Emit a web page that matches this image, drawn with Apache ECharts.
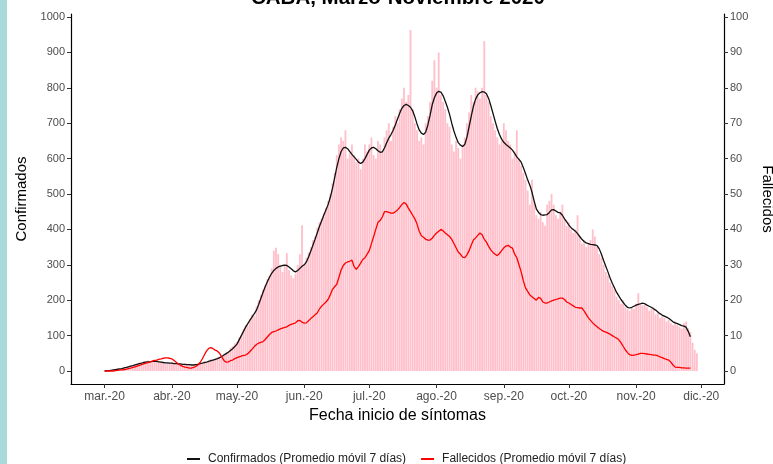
<!DOCTYPE html>
<html><head><meta charset="utf-8">
<script src="https://cdn.jsdelivr.net/npm/echarts@6/dist/echarts.min.js"></script>
<style>html,body{margin:0;padding:0;background:#fff}#c{width:773px;height:464px}</style>
</head><body><div id="c"></div>
<script>
// ---- tick labels ----
const monthStarts = ['2020-03-01','2020-04-01','2020-05-01','2020-06-01','2020-07-01','2020-08-01','2020-09-01','2020-10-01','2020-11-01','2020-12-01'];
const monthLabels = ['mar.-20','abr.-20','may.-20','jun.-20','jul.-20','ago.-20','sep.-20','oct.-20','nov.-20','dic.-20'];
const leftTicks = [0,100,200,300,400,500,600,700,800,900,1000];
const rightTicks = [0,10,20,30,40,50,60,70,80,90,100];

// ---- daily confirmed cases (bars), from 2020-03-01 ----
const confMar = [0,1,2,1,3,4,5,7,6,10,11,13,16,14,18,21,24,20,27,28,30,22,26,31,29,25,27,24,21,25,23];
const confApr = [24,20,19,22,18,16,21,17,19,14,16,20,22,23,21,27,24,30,33,29,35,38,40,37,48,52,55,64,70,78];
const confMay = [82,95,98,118,130,128,146,160,155,182,200,215,230,242,260,270,290,340,348,330,300,280,296,333,285,270,262,275,300,330,412];
const confJun = [300,320,335,350,370,380,405,420,430,445,460,480,500,530,560,610,640,660,650,680,600,615,640,610,590,600,570,600,640,620];
const confJul = [640,660,610,600,650,640,620,660,680,700,650,690,720,700,740,770,800,760,780,963,740,700,680,650,660,640,700,720,760,820,878];
const confAug = [800,900,780,760,740,700,690,640,620,650,630,600,640,660,700,730,780,760,800,790,770,800,932,780,760,720,700,680,660,640,650];
const confSep = [700,680,650,640,600,620,680,600,580,560,540,510,470,540,480,440,430,450,420,410,470,480,500,470,440,430,450,470,430,410];
const confOct = [420,400,390,400,440,380,360,370,350,360,370,400,380,350,330,320,300,280,270,250,240,230,210,200,190,200,180,175,170,180,175];
const confNov = [190,220,190,185,190,180,170,175,180,160,165,150,155,150,140,145,135,130,140,130,125,120,135,140,120,110,80,60,50];

// ---- 7-day moving average, confirmed (black line) ----
const c7Mar = [0,1,1,2,3,4,5,6,7,9,10,12,14,15,17,19,21,22,24,25,26,26,27,27,27,26,25,24,23,23,22];
const c7Apr = [22,21,21,20,20,19,19,18,18,17,17,18,19,21,22,24,25,27,29,31,33,35,38,41,45,49,53,58,63,69];
const c7May = [76,88,100,112,124,134,144,153,162,172,188,205,222,238,252,265,276,284,290,294,296,298,299,298,294,289,283,280,284,290,296];
const c7Jun = [300,308,322,338,355,372,390,408,424,440,455,470,490,515,545,575,600,620,630,632,628,620,612,605,598,590,586,590,600,612];
const c7Jul = [624,630,632,628,622,618,619,630,645,658,668,680,695,712,728,742,750,753,750,745,735,718,698,681,672,668,675,695,722,752,772];
const c7Aug = [785,790,788,778,762,745,725,700,678,660,645,638,634,640,660,690,720,748,768,780,786,789,788,783,770,750,728,706,685,668,655];
const c7Sep = [646,640,635,630,624,615,605,598,590,575,558,540,525,505,480,458,448,442,440,441,442,448,455,456,452,448,447,440,430,421];
const c7Oct = [412,405,400,395,388,380,372,366,362,360,358,357,356,354,345,330,312,296,280,263,248,235,222,212,202,194,186,180,178,180,183];
const c7Nov = [186,188,190,192,190,186,183,180,176,172,167,162,158,155,152,149,144,139,136,134,131,128,127,124,112,97];

// ---- 7-day moving average, deaths (red line, right axis) ----
const f7Mar = [0,0,0,0,0,0.1,0.2,0.3,0.3,0.4,0.5,0.7,0.8,1,1.2,1.4,1.6,1.8,2,2.2,2.4,2.6,2.8,3,3.1,3.3,3.4,3.6,3.7,3.7,3.6];
const f7Apr = [3.4,3,2.5,2,1.6,1.3,1.1,1,0.8,0.8,1,1.3,1.7,2.4,3.4,4.6,5.7,6.4,6.6,6.3,5.9,5.6,5,4,3,2.5,2.6,2.9,3.1,3.5];
const f7May = [3.8,4,4.2,4.4,4.5,4.9,5.5,6.2,6.9,7.5,7.9,8.1,8.3,8.9,9.6,10.3,10.9,11.1,11.3,11.6,11.9,12.1,12.3,12.5,12.9,13.2,13.4,13.6,14.2,14.3,13.8];
const f7Jun = [13.5,13.6,14.2,14.8,15.3,15.9,16.4,17.5,18.3,18.9,19.5,20.2,21.5,23,23.8,24.5,26.5,28.5,29.8,30.5,30.8,31,31.3,29.5,28.7,29.5,30.5,31.5,32,33];
const f7Jul = [34,36,38,40,42,42.5,43.5,45,45,44.8,44.6,44.6,45,45.5,46.2,47,47.6,47.2,46,45,44,43,41.5,39.5,38.2,37.8,37.2,37,37,37.5,38.3];
const f7Aug = [39,39.5,40,39.6,39,38.5,38,37.2,36,34.8,33.6,33,32.2,32,32.8,34,35.6,37,37.6,38.3,39,38.5,37.2,36.4,35.2,34.2,33.5,33,32.6,33.2,34];
const f7Sep = [34.8,35.3,35.5,35,34.7,33,32,30,28,25.5,23.5,22.5,21.5,21,20.5,20,20.8,20.5,19.5,19.2,19.2,19.5,19.8,20,20.2,20.4,20.6,20.6,20.2,19.5];
const f7Oct = [19.2,18.8,18.4,18,17.9,17.8,17.8,17,16,15,14.3,13.6,13,12.5,12,11.6,11.2,11,10.7,10.4,10,9.6,9.3,8.8,8,7,6,5.2,4.6,4.4,4.5];
const f7Nov = [4.6,4.8,5,5,4.9,4.8,4.7,4.6,4.5,4.5,4.3,4,3.8,3.5,3.3,3.1,2.5,1.7,1.1,1,1,0.9,0.9,0.8,0.8,0.8];

// ---- build category axis (one per day) ----
const axisStart = '2020-02-15', axisEnd = '2020-12-11', dataStart = '2020-03-01';
function ymd(d){return d.toISOString().slice(0,10);}
const days = [];
for (let d = new Date(axisStart+'T00:00:00Z'); ymd(d) <= axisEnd; d.setUTCDate(d.getUTCDate()+1)) days.push(ymd(d));
const offset = days.indexOf(dataStart);
function align(arr){ const out = new Array(days.length).fill(null); arr.forEach((v,i)=>{ out[offset+i]=v; }); return out; }
const conf = align([].concat(confMar,confApr,confMay,confJun,confJul,confAug,confSep,confOct,confNov));
const c7 = align([].concat(c7Mar,c7Apr,c7May,c7Jun,c7Jul,c7Aug,c7Sep,c7Oct,c7Nov));
const f7 = align([].concat(f7Mar,f7Apr,f7May,f7Jun,f7Jul,f7Aug,f7Sep,f7Oct,f7Nov));

const FONT = 'Liberation Sans, Arial, sans-serif';
const isMonth = (i, v) => monthStarts.indexOf(v) >= 0;
const chart = echarts.init(document.getElementById('c'), null, {renderer:'canvas'});
chart.setOption({
  animation:false,
  backgroundColor:'#ffffff',
  textStyle:{fontFamily:FONT},
  graphic:[{type:'rect',shape:{x:0,y:0,width:7,height:464},style:{fill:'#a9dada'},silent:true}],
  title:{text:'CABA, Marzo-Noviembre 2020',left:246,top:-17,
    textStyle:{fontFamily:FONT,fontSize:20.5,fontWeight:'bold',color:'#000'}},
  grid:{left:71,right:49,top:14,bottom:80,containLabel:false,outerBoundsMode:'none'},
  legend:{top:448,left:182,icon:'rect',itemWidth:13,itemHeight:2,itemGap:15,
    textStyle:{fontFamily:FONT,fontSize:12,color:'#222',padding:[0,0,0,3]},
    data:['Confirmados (Promedio móvil 7 días)','Fallecidos (Promedio móvil 7 días)']},
  xAxis:{type:'category',data:days,boundaryGap:true,
    axisLine:{show:true,onZero:false,lineStyle:{color:'#000',width:1.2}},
    axisTick:{show:true,interval:isMonth,alignWithLabel:true,length:4,lineStyle:{color:'#333'}},
    axisLabel:{interval:isMonth,color:'#4d4d4d',fontSize:12,margin:7,fontFamily:FONT,
      formatter:(v)=>monthLabels[monthStarts.indexOf(v)]},
    name:'Fecha inicio de síntomas',nameLocation:'middle',nameGap:22,
    nameTextStyle:{fontFamily:FONT,fontSize:16,color:'#000'}},
  yAxis:[
    {type:'value',min:-36.7,max:1008.5,position:'left',
     axisLine:{show:true,lineStyle:{color:'#000',width:1.2}},
     axisTick:{show:true,customValues:leftTicks,length:4,lineStyle:{color:'#333'}},
     axisLabel:{customValues:leftTicks,color:'#4d4d4d',fontSize:11,margin:6,fontFamily:FONT,
       formatter:(v)=>String(v)},
     splitLine:{show:false},
     name:'Confirmados',nameLocation:'middle',nameGap:38,nameRotate:90,
     nameTextStyle:{fontFamily:FONT,fontSize:15,color:'#000'}},
    {type:'value',min:-3.67,max:100.85,position:'right',
     axisLine:{show:true,lineStyle:{color:'#000',width:1.2}},
     axisTick:{show:true,customValues:rightTicks,length:4,lineStyle:{color:'#333'}},
     axisLabel:{customValues:rightTicks,color:'#4d4d4d',fontSize:11,margin:6,fontFamily:FONT,
       formatter:(v)=>String(v)},
     splitLine:{show:false},
     name:'Fallecidos',nameLocation:'middle',nameGap:24,nameRotate:-90,
     nameTextStyle:{fontFamily:FONT,fontSize:15,color:'#000'}}
  ],
  series:[
    {name:'Confirmados diarios',type:'bar',data:conf,yAxisIndex:0,barWidth:'85%',
     itemStyle:{color:'#ffc0cb'},silent:true},
    {name:'Confirmados (Promedio móvil 7 días)',type:'line',data:c7,yAxisIndex:0,symbol:'none',
     lineStyle:{color:'#111',width:1.3},itemStyle:{color:'#111'},z:3},
    {name:'Fallecidos (Promedio móvil 7 días)',type:'line',data:f7,yAxisIndex:1,symbol:'none',
     lineStyle:{color:'#ff0000',width:1.3},itemStyle:{color:'#ff0000'},z:4}
  ]
});
</script></body></html>
